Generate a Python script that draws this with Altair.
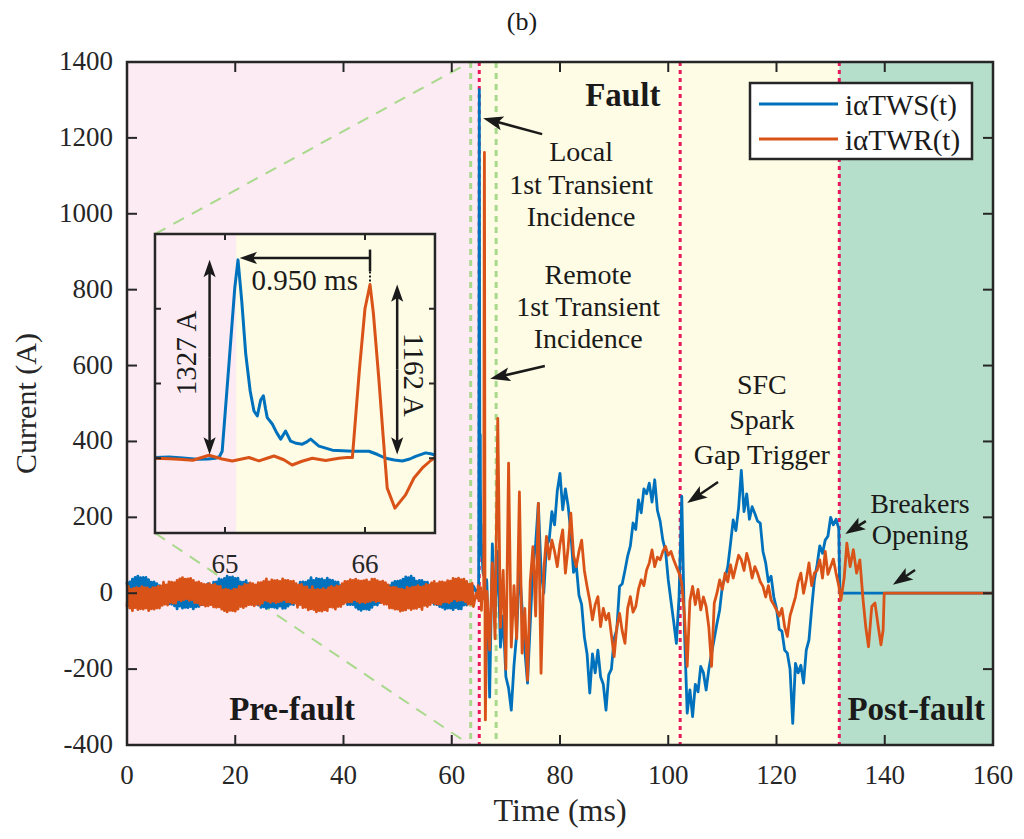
import math
import altair as alt
import pandas as pd

# ---------------- plot area (pixels) and axes ----------------
W, H = 866, 683
T_DOM = [0, 160]          # time, ms
I_DOM = [-400, 1400]      # current, A
PX_T = W / (T_DOM[1] - T_DOM[0])
PX_I = H / (I_DOM[1] - I_DOM[0])

FONT = "Liberation Serif"
INK = "#262626"
TXT = "#1a1a1a"
BLUE = "#0072BD"
ORANGE = "#D95319"
PINK = "#FCEBF2"
CREAM = "#FEFCE4"
MINT = "#B6DFCB"
CRIMSON = "#E8185D"
LIME = "#A9D98C"

# ---------------- recorded currents ----------------
# pre-fault record, 0 .. 64 ms every 0.25 ms
PRE_T0, PRE_DT = 0.0, 0.25
tws_pre = [
    30, -8, 30, -8, 37, 2, 42, 1, 45, 3, 41, 6, 42, 1, 42, 1, 36, -8, 29, -8,
    30, -15, 25, -16, 20, -22, 18, -22, 20, -20, 14, -28, 15, -29, 9, -33, 0, -41, 2, -34,
    4, -39, 1, -37, 5, -38, 3, -35, 2, -41, -1, -36, 6, -35, 7, -30, 12, -30, 13, -21,
    25, -16, 20, -16, 29, -8,
    30, -7, 38, 1, 36, -6, 39, 4, 45, 2, 42, 3, 43, 0, 39, 2, 40, -5, 30, -9,
    29, -7, 33, -13, 25, -13, 23, -22, 15, -29, 9, -31, 7, -37, 6, -36, -1, -40, 2, -37,
    5, -36, 2, -37, 5, -39, 2, -34, 2, -40, 0, -39, 5, -34, 4, -29, 11, -30, 16, -24,
    17, -17, 29, -8, 30, -8,
    29, -8, 33, 0, 41, -2, 34, -3, 39, -1, 37, -5, 38, -3, 34, -3, 40, 0, 35, -6,
    34, -7, 30, -12, 29, -14, 20, -26, 16, -20, 16, -30, 8, -30, 9, -30, 8, -37, -2, -42,
    0, -45, -3, -41, -6, -42, -1, -43, -2, -37, 7, -30, 8, -31, 15, -25, 16, -21, 21, -19,
    21, -20, 20, -14, 27, -15,
    31, -11, 32, -6, 33, -6, 37, 0, 43, 5, 41, 1, 45, 2, 40, -1, 32, -9, 34, -2,
    34, -9, 29, -11, 29, -16, 22, -18, 17, -29, 8, -30, 9, -35, 4, -37, 2, -42, -2, -39,
    5, -39, -5, -43, 1, -38, -1, -41, -3, -41, 4, -31, 10, -31, 15, -25, 15, -19, 19]
twr_pre = [
    -36, 18, -39, 10, -46, 13, -38, 15, -43, 13, -41, 17, -42, 15, -39, 14, -46, 10, -41, 15,
    -42, 15, -39, 18, -39, 19, -32, 29, -29, 22, -31, 30, -24, 29, -26, 28, -26, 34, -17, 38,
    -20, 41, -17, 37, -14, 38, -19, 39, -17, 34, -25, 28, -25, 30, -31, 26, -30, 23, -34, 23,
    -33, 25, -30, 21, -36, 23,
    -37, 18, -36, 18, -42, 9, -46, 11, -49, 9, -45, 6, -46, 11, -47, 10, -42, 18, -35, 17,
    -38, 23, -34, 22, -30, 27, -30, 25, -33, 22, -29, 28, -31, 28, -26, 31, -18, 38, -21, 30,
    -24, 35, -21, 33, -25, 34, -23, 31, -21, 38, -17, 34, -23, 34, -23, 31, -26, 32, -26, 25,
    -37, 21, -30, 23, -38, 16,
    -37, 17, -44, 9, -41, 17, -43, 8, -49, 10, -46, 9, -47, 12, -44, 9, -46, 15, -36, 18,
    -37, 15, -42, 19, -35, 18, -35, 25, -28, 31, -24, 31, -23, 36, -23, 34, -17, 37, -21, 33,
    -25, 32, -22, 33, -25, 35, -22, 30, -21, 37, -18, 37, -22, 33, -20, 30, -25, 32, -29, 28,
    -29, 22, -39, 15, -39, 16,
    -42, 15, -42, 11, -47, 11, -45, 8, -44, 16, -39, 13, -43, 16, -40, 16, -40, 20, -36, 16,
    -43, 17, -32, 23, -35, 21, -30, 27, -25, 31, -28, 25, -29, 30, -29, 30, -23, 28, -23, 33,
    -25, 32, -20, 39, -15, 37, -20, 40, -18, 36, -18, 37, -22, 31, -29, 24, -29, 26, -35]

# first wave arrivals, finely sampled (ms, A)
tws_win_t = [64.5, 64.6, 64.7, 64.8, 64.88, 64.93, 64.96, 64.98, 65.03, 65.07,
             65.093, 65.12, 65.148, 65.18, 65.207, 65.231, 65.255, 65.274, 65.29, 65.302,
             65.338, 65.37, 65.398, 65.433, 65.469, 65.51, 65.552, 65.585, 65.612, 65.671,
             65.767, 65.91, 66.029, 66.09, 66.148, 66.21, 66.267, 66.32, 66.362, 66.433,
             66.469, 66.5]
tws_win = [5, 8, 2, -6, -5, 0, 10, 47, 650, 1140,
           1327, 1050, 700, 450, 316, 283, 390, 418, 330, 272,
           229, 170, 128, 182, 114, 100, 94, 110, 128, 81,
           54, 47, 47, 25, 0, -12, -18, -5, 13, 36,
           30, 22]
twr_win_t = [64.5, 64.6, 64.67, 64.77, 64.886, 64.98, 65.052, 65.12, 65.171, 65.243,
             65.30, 65.35, 65.42, 65.48, 65.55, 65.624, 65.719, 65.814, 65.87, 65.91,
             65.96, 66.0, 66.036, 66.06, 66.10, 66.13, 66.159, 66.214, 66.29, 66.35,
             66.41, 66.47, 66.5]
twr_win = [0, -4, -7, -13, 20, -5, -18, -5, 5, -18,
           0, 15, -10, -45, -20, 0, -15, 0, 5, 5,
           590, 1000, 1162, 970, 519, 145, -200, -334, -245, -132,
           -65, -15, 5]

# fault record, 67 .. 131.5 ms every 0.5 ms
FLT_T0, FLT_DT = 67.0, 0.5
tws_flt = [-274, 130, -60, 110, -142, -60, -220, -250, -308, -190,
           -106, 69, -40, -150, -237, -80, 69, 130, 237, 60,
           0, 125, 140, 215, 180, 270, 316, 220, 275, 230,
           160, 55, 75, -5, -30, -115, -160, -263, -160, -210,
           -150, -220, -240, -308, -215, -200, -120, -95, 18, 25,
           60, 98, 125, 185, 168, 246, 212, 275, 262, 290,
           240, 299, 218, 190, 140, 112, 35, -20, -75, -132,
           -9, 255, -100, -316, -255, -325, -240, -260, -193, -210,
           -255, -200, -158, -120, -80, -44, 20, 40, 70, 130,
           193, 165, 225, 324, 215, 262, 195, 228, 210, 190,
           185, 110, 80, 30, 45, -10, -40, -95, -100, -150,
           -158, -200, -343, -185, -210, -190, -237, -150, -123, -40,
           35, 75, 125, 105, 140, 150, 200, 180, 195, 170]
twr_flt = [-150, 80, -120, 461, -90, 60, -200, 343, -142, 20,
           -120, 267, -158, -40, -229, 30, 123, -60, 237, -211,
           60, 150, 90, 140, 110, 70, 130, 167, 53, 120,
           211, 100, 70, 110, 140, 60, 18, -20, -70, -30,
           -9, -88, -40, -70, -53, -110, -167, -90, -53, -100,
           -132, -40, -9, -50, -35, 10, 35, 20, 61, 80,
           114, 70, 95, 88, 110, 123, 100, 110, 88, 70,
           53, 26, -60, -193, -20, 18, -30, 10, -44, -10,
           -35, -90, -193, -26, 0, 35, 10, 53, 30, 75,
           40, 70, 100, 88, 60, 105, 79, 40, 70, 53,
           30, 18, -10, 20, -18, -30, -44, -60, -40, -88,
           -114, -60, -35, -10, 30, 53, 0, 35, 80, 20,
           53, 60, 88, 40, 110, 50, 70, 90, 53, 20]

# after the breakers open (ms, A)
tws_post_t = [131.7, 160.0]
tws_post = [0, 0]
twr_post_t = [131.9, 132.5, 133.0, 133.6, 134.2, 134.8, 135.4, 136.0, 136.5, 137.0,
              137.6, 138.2, 138.8, 139.3, 139.7, 139.9, 160.0]
twr_post = [-18, 40, 132, 70, 115, 53, 88, -18, -90, -141,
            -35, -26, -88, -136, -97, 0, 0]

# event instants (ms)
FAULT_ON, SPARK, BREAKER = 65.08, 102.2, 131.6
ZOOM_MARKS = [63.5, 68.2]

# inset window and where it sits on the main axes
WIN_T = [64.5, 66.5]
WIN_I = [-500, 1500]
INSET_T = [5.17, 56.9]
INSET_I = [158.7, 946.7]
DIAG_END_T = 63.4

# tick values
x_ticks = list(range(0, 161, 20))
y_ticks = list(range(-400, 1401, 200))
win_x_ticks = [65, 66]
win_y_ticks = [0, 500, 1000]

# annotation texts (ms, A)
note_text = ["Local", "1st Transient", "Incidence", "Remote", "1st Transient", "Incidence",
             "SFC", "Spark", "Gap Trigger", "Breakers", "Opening"]
note_t = [83.9, 83.9, 83.9, 85.2, 85.2, 85.2, 117.3, 117.3, 117.3, 146.5, 146.5]
note_v = [1160, 1073, 988, 836, 751, 667, 546, 453, 361, 232, 150]
phase_text = ["Fault", "Pre-fault", "Post-fault"]
phase_t = [91.6, 30.5, 145.8]
phase_v = [1310, -308, -308]

# arrows: tail -> tip (ms, A)
arrow_tail_t = [76.7, 77.2, 109.2, 136.5, 145.6]
arrow_tail_v = [1210, 599, 293, 190, 61]
arrow_tip_t = [65.8, 67.1, 103.5, 132.7, 141.5]
arrow_tip_v = [1252, 565, 238, 156, 22]

# inset measurements
BLUE_PEAK_T, BLUE_PEAK = 65.093, 1327
RED_PEAK_T, RED_PEAK = 66.036, 1162

# ---------------- helpers ----------------
def trace(pre, win_t, win, flt, post_t, post):
    t = [PRE_T0 + PRE_DT * i for i in range(len(pre))]
    t += list(win_t)
    t += [FLT_T0 + FLT_DT * i for i in range(len(flt))]
    t += list(post_t)
    v = list(pre) + list(win) + list(flt) + list(post)
    return pd.DataFrame({"t": t, "v": v})


def arrows(t0s, v0s, t1s, v1s, sx, sy, shorten):
    rows = []
    for t0, v0, t1, v1 in zip(t0s, v0s, t1s, v1s):
        dx = (t1 - t0) * sx
        dy = -(v1 - v0) * sy
        length = math.hypot(dx, dy)
        ang = math.degrees(math.atan2(dx, -dy)) % 360
        k = max(length - shorten, 0) / length
        rows.append({"t0": t0, "v0": v0, "t1": t0 + (t1 - t0) * k, "v1": v0 + (v1 - v0) * k,
                     "tt": t1, "tv": v1, "ang": ang})
    return pd.DataFrame(rows)


ARROW = "M0,0L-0.7,2L0,1.55L0.7,2Z"
ONE = pd.DataFrame({"k": [0]})

tws = trace(tws_pre, tws_win_t, tws_win, tws_flt, tws_post_t, tws_post)
twr = trace(twr_pre, twr_win_t, twr_win, twr_flt, twr_post_t, twr_post)

# ---------------- main axes ----------------
MX = alt.Scale(domain=T_DOM, nice=False, zero=False)
MY = alt.Scale(domain=I_DOM, nice=False, zero=False)


def mx(f):
    return alt.X(f"{f}:Q", scale=MX, axis=None)


def my(f):
    return alt.Y(f"{f}:Q", scale=MY, axis=None)


phases = pd.DataFrame({"t0": [T_DOM[0], FAULT_ON, BREAKER], "t1": [FAULT_ON, BREAKER, T_DOM[1]],
                       "v0": [I_DOM[0]] * 3, "v1": [I_DOM[1]] * 3, "fill": [PINK, CREAM, MINT]})
bg = alt.Chart(phases).mark_rect().encode(
    x=mx("t0"), x2="t1:Q", y=my("v0"), y2="v1:Q", fill=alt.Fill("fill:N", scale=None))

zoom_lines = alt.Chart(pd.DataFrame({"t": ZOOM_MARKS})).mark_rule(
    color=LIME, strokeWidth=3, strokeDash=[6, 5]).encode(x=mx("t"))

diag = pd.DataFrame({"t0": [INSET_T[0], INSET_T[0]], "v0": [INSET_I[1], INSET_I[0]],
                     "t1": [DIAG_END_T, DIAG_END_T], "v1": [I_DOM[1], I_DOM[0]]})
diag_lines = alt.Chart(diag).mark_rule(color=LIME, strokeWidth=2, strokeDash=[12, 9]).encode(
    x=mx("t0"), y=my("v0"), x2="t1:Q", y2="v1:Q")

event_lines = alt.Chart(pd.DataFrame({"t": [FAULT_ON, SPARK, BREAKER]})).mark_rule(
    color=CRIMSON, strokeWidth=3, strokeDash=[4, 4]).encode(x=mx("t"))

line_tws = alt.Chart(tws).mark_line(color=BLUE, strokeWidth=2.8, strokeJoin="round").encode(
    x=mx("t"), y=my("v"))
line_twr = alt.Chart(twr).mark_line(color=ORANGE, strokeWidth=2.8, strokeJoin="round").encode(
    x=mx("t"), y=my("v"))

frame = alt.Chart(pd.DataFrame({"t0": [T_DOM[0]], "t1": [T_DOM[1]], "v0": [I_DOM[0]], "v1": [I_DOM[1]]})
                  ).mark_rect(fillOpacity=0, stroke=INK, strokeWidth=2.5).encode(
    x=mx("t0"), x2="t1:Q", y=my("v0"), y2="v1:Q")

# inward ticks on all four sides, with tick labels and axis titles
xt = pd.DataFrame({"t": x_ticks, "label": [str(v) for v in x_ticks]})
yt = pd.DataFrame({"v": y_ticks, "label": [str(v) for v in y_ticks]})
TL = 10
ticks = [
    alt.Chart(xt).mark_rule(color=INK, strokeWidth=2).encode(x=mx("t"), y=alt.value(H), y2=alt.value(H - TL)),
    alt.Chart(xt).mark_rule(color=INK, strokeWidth=2).encode(x=mx("t"), y=alt.value(0), y2=alt.value(TL)),
    alt.Chart(yt).mark_rule(color=INK, strokeWidth=2).encode(y=my("v"), x=alt.value(0), x2=alt.value(TL)),
    alt.Chart(yt).mark_rule(color=INK, strokeWidth=2).encode(y=my("v"), x=alt.value(W - TL), x2=alt.value(W)),
]
tick_labels = [
    alt.Chart(xt).mark_text(font=FONT, fontSize=27, color=INK, align="center", baseline="middle").encode(
        x=mx("t"), y=alt.value(H + 31), text="label:N"),
    alt.Chart(yt).mark_text(font=FONT, fontSize=27, color=INK, align="right", baseline="middle").encode(
        y=my("v"), x=alt.value(-14), text="label:N"),
]
axis_titles = [
    alt.Chart(ONE).mark_text(font=FONT, fontSize=32, color=INK, align="center", baseline="middle").encode(
        x=alt.value(W / 2), y=alt.value(H + 66), text=alt.value("Time (ms)")),
    alt.Chart(ONE).mark_text(font=FONT, fontSize=30, color=INK, align="center", baseline="middle",
                             angle=270).encode(
        x=alt.value(-100), y=alt.value(H / 2), text=alt.value("Current (A)")),
]

notes = alt.Chart(pd.DataFrame({"t": note_t, "v": note_v, "text": note_text})).mark_text(
    font=FONT, fontSize=28, color=TXT, align="center", baseline="middle").encode(
    x=mx("t"), y=my("v"), text="text:N")
phase_notes = alt.Chart(pd.DataFrame({"t": phase_t, "v": phase_v, "text": phase_text})).mark_text(
    font=FONT, fontSize=33, fontWeight="bold", color=TXT, align="center", baseline="middle").encode(
    x=mx("t"), y=my("v"), text="text:N")

arr = arrows(arrow_tail_t, arrow_tail_v, arrow_tip_t, arrow_tip_v, PX_T, PX_I, 12)
shafts = alt.Chart(arr).mark_rule(color=TXT, strokeWidth=2.5).encode(
    x=mx("t0"), y=my("v0"), x2="t1:Q", y2="v1:Q")
heads = alt.Chart(arr).mark_point(shape=ARROW, filled=True, size=400, color=TXT, opacity=1,
                                   strokeWidth=0).encode(
    x=mx("tt"), y=my("tv"), angle=alt.Angle("ang:Q", scale=None))

# legend, placed in the upper right corner of the plot area
LG_X0, LG_X1, LG_Y0, LG_Y1 = 623, 845, 21, 97
legend_layers = [
    alt.Chart(ONE).mark_rect(fill="white", stroke=INK, strokeWidth=2.5).encode(
        x=alt.value(LG_X0), x2=alt.value(LG_X1), y=alt.value(LG_Y0), y2=alt.value(LG_Y1)),
]
for name, color, yy in [("iαTWS(t)", BLUE, 42), ("iαTWR(t)", ORANGE, 77)]:
    legend_layers.append(alt.Chart(ONE).mark_rule(color=color, strokeWidth=3).encode(
        x=alt.value(632), x2=alt.value(711), y=alt.value(yy)))
    legend_layers.append(alt.Chart(ONE).mark_text(
        font=FONT, fontSize=29, color=TXT, align="left", baseline="middle").encode(
        x=alt.value(718), y=alt.value(yy + 2), text=alt.value(name)))

title = alt.Chart(ONE).mark_text(font=FONT, fontSize=26, color=TXT, align="center",
                                 baseline="middle").encode(
    x=alt.value(395), y=alt.value(-40), text=alt.value("(b)"))

main = alt.layer(bg, zoom_lines, diag_lines, event_lines, line_tws, line_twr, *ticks, frame,
                 *tick_labels, *axis_titles, notes, phase_notes, shafts, heads,
                 *legend_layers, title)

# ---------------- inset: first wave arrivals ----------------
ix0 = (INSET_T[0] - T_DOM[0]) * PX_T
ix1 = (INSET_T[1] - T_DOM[0]) * PX_T
iy0 = (I_DOM[1] - INSET_I[0]) * PX_I
iy1 = (I_DOM[1] - INSET_I[1]) * PX_I
IX = alt.Scale(domain=WIN_T, range=[ix0, ix1], nice=False, zero=False)
IY = alt.Scale(domain=WIN_I, range=[iy0, iy1], nice=False, zero=False)
PX_WT = (ix1 - ix0) / (WIN_T[1] - WIN_T[0])
PX_WI = (iy0 - iy1) / (WIN_I[1] - WIN_I[0])


def ixe(f):
    return alt.X(f"{f}:Q", scale=IX, axis=None)


def iye(f):
    return alt.Y(f"{f}:Q", scale=IY, axis=None)


win_bg = pd.DataFrame({"t0": [WIN_T[0], FAULT_ON], "t1": [FAULT_ON, WIN_T[1]],
                       "v0": [WIN_I[0]] * 2, "v1": [WIN_I[1]] * 2, "fill": [PINK, CREAM]})
i_bg = alt.Chart(win_bg).mark_rect().encode(
    x=ixe("t0"), x2="t1:Q", y=iye("v0"), y2="v1:Q", fill=alt.Fill("fill:N", scale=None))

in_win = f"datum.t >= {WIN_T[0]} && datum.t <= {WIN_T[1]}"
i_tws = alt.Chart(tws).transform_filter(in_win).mark_line(
    color=BLUE, strokeWidth=3, strokeJoin="round").encode(x=ixe("t"), y=iye("v"))
i_twr = alt.Chart(twr).transform_filter(in_win).mark_line(
    color=ORANGE, strokeWidth=3, strokeJoin="round").encode(x=ixe("t"), y=iye("v"))

i_frame = alt.Chart(pd.DataFrame({"t0": [WIN_T[0]], "t1": [WIN_T[1]], "v0": [WIN_I[0]], "v1": [WIN_I[1]]})
                    ).mark_rect(fillOpacity=0, stroke=INK, strokeWidth=2.5).encode(
    x=ixe("t0"), x2="t1:Q", y=iye("v0"), y2="v1:Q")

ixt = pd.DataFrame({"t": win_x_ticks, "label": [str(v) for v in win_x_ticks]})
iyt = pd.DataFrame({"v": win_y_ticks})
ITL = 6
i_ticks = [
    alt.Chart(ixt).mark_rule(color=INK, strokeWidth=2).encode(x=ixe("t"), y=alt.value(iy0), y2=alt.value(iy0 - ITL)),
    alt.Chart(ixt).mark_rule(color=INK, strokeWidth=2).encode(x=ixe("t"), y=alt.value(iy1), y2=alt.value(iy1 + ITL)),
    alt.Chart(iyt).mark_rule(color=INK, strokeWidth=2).encode(y=iye("v"), x=alt.value(ix0), x2=alt.value(ix0 + ITL)),
    alt.Chart(iyt).mark_rule(color=INK, strokeWidth=2).encode(y=iye("v"), x=alt.value(ix1 - ITL), x2=alt.value(ix1)),
]
i_tick_labels = alt.Chart(ixt).mark_text(font=FONT, fontSize=27, color=INK, align="center",
                                         baseline="middle").encode(
    x=ixe("t"), y=alt.value(iy0 + 32), text="label:N")

# double-headed amplitude arrows and the delay arrow
amp_mid_a = (25 + BLUE_PEAK) / 2
amp_mid_b = (25 + RED_PEAK) / 2
iarr = arrows(
    [64.89, 64.89, 66.23, 66.23, RED_PEAK_T],
    [amp_mid_a, amp_mid_a, amp_mid_b, amp_mid_b, 1340],
    [64.89, 64.89, 66.23, 66.23, BLUE_PEAK_T + 0.012],
    [BLUE_PEAK, 25, RED_PEAK, 25, 1340],
    PX_WT, PX_WI, 8)
i_shafts = alt.Chart(iarr).mark_rule(color=TXT, strokeWidth=2.5).encode(
    x=ixe("t0"), y=iye("v0"), x2="t1:Q", y2="v1:Q")
i_heads = alt.Chart(iarr).mark_point(shape=ARROW, filled=True, size=300, color=TXT, opacity=1,
                                     strokeWidth=0).encode(
    x=ixe("tt"), y=iye("tv"), angle=alt.Angle("ang:Q", scale=None))
i_bar = alt.Chart(pd.DataFrame({"t": [RED_PEAK_T], "v0": [1396], "v1": [1250]})).mark_rule(
    color=TXT, strokeWidth=2.5).encode(x=ixe("t"), y=iye("v0"), y2="v1:Q")
i_dots = alt.Chart(pd.DataFrame({"t": [RED_PEAK_T], "v0": [1250], "v1": [RED_PEAK + 12]})).mark_rule(
    color=TXT, strokeWidth=2, strokeDash=[2, 2]).encode(x=ixe("t"), y=iye("v0"), y2="v1:Q")

i_lab_a = alt.Chart(pd.DataFrame({"t": [64.73], "v": [705], "text": [f"{BLUE_PEAK} A"]})).mark_text(
    font=FONT, fontSize=29, color=TXT, angle=270, align="center", baseline="middle").encode(
    x=ixe("t"), y=iye("v"), text="text:N")
i_lab_b = alt.Chart(pd.DataFrame({"t": [66.34], "v": [558], "text": [f"{RED_PEAK} A"]})).mark_text(
    font=FONT, fontSize=29, color=TXT, angle=90, align="center", baseline="middle").encode(
    x=ixe("t"), y=iye("v"), text="text:N")
i_lab_d = alt.Chart(pd.DataFrame({"t": [65.57], "v": [1187],
                                  "text": [f"{RED_PEAK_T - BLUE_PEAK_T + 0.007:.3f} ms"]})).mark_text(
    font=FONT, fontSize=29, color=TXT, align="center", baseline="middle").encode(
    x=ixe("t"), y=iye("v"), text="text:N")

inset = alt.layer(i_bg, i_tws, i_twr, *i_ticks, i_frame, i_tick_labels,
                  i_shafts, i_heads, i_bar, i_dots, i_lab_a, i_lab_b, i_lab_d)

chart = alt.layer(main, inset).resolve_scale(x="independent", y="independent").properties(
    width=W, height=H,
    padding={"left": 127, "top": 62, "right": 31, "bottom": 94},
    autosize=alt.AutoSizeParams(type="none"),
    background="white",
).configure_view(stroke=None)

chart.save("out.html", embed_options={"renderer": "svg", "actions": False})
